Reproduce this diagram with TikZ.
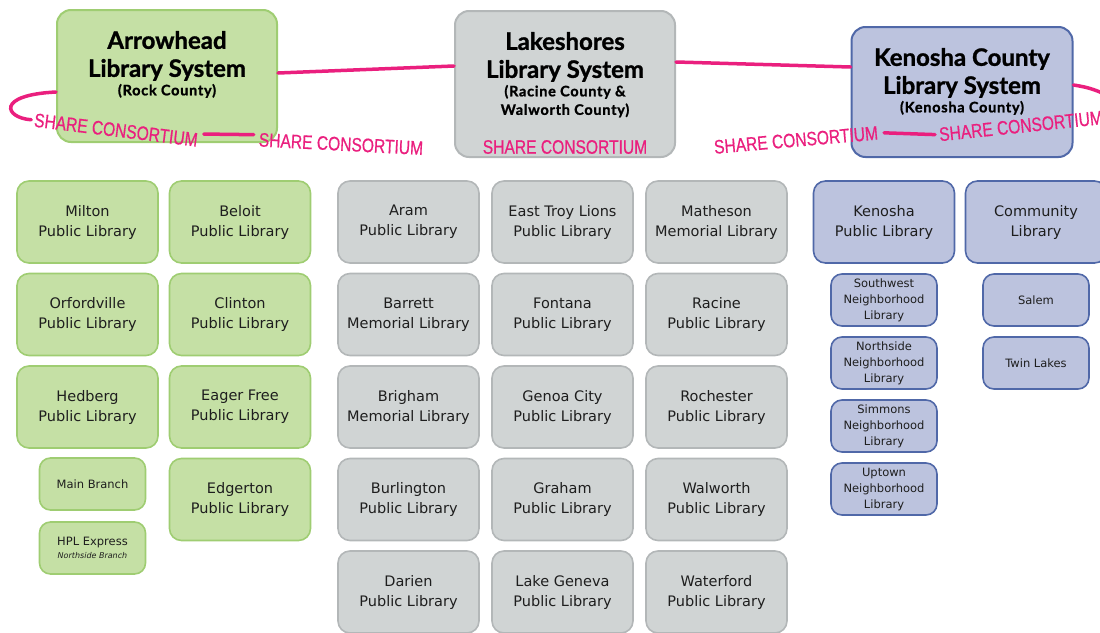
\documentclass[tikz,border=0pt]{standalone}
\usepackage{fontspec}
\usepackage{tikz}
\usetikzlibrary{shapes.geometric, arrows}
\newfontfamily\headfont{Lato}[BoldFeatures={FakeBold=1.2}]
\newfontfamily\subfont{Lato}[LetterSpace=5, BoldFeatures={FakeBold=1.2}]
\newfontfamily\bodyfont{DejaVu Sans}
\newfontfamily\sharefont{Liberation Sans}[FakeStretch=0.8, FakeBold=0.6]
\definecolor{rockfill}{HTML}{C5E0A5}
\definecolor{rockline}{HTML}{9FCD72}
\definecolor{lakefill}{HTML}{D0D4D4}
\definecolor{lakeline}{HTML}{B3B7B8}
\definecolor{kenofill}{HTML}{BCC3DE}
\definecolor{kenoline}{HTML}{5068A8}
\definecolor{ringpink}{HTML}{EA1F7E}
\definecolor{inkblack}{HTML}{1E1E1E}
\tikzstyle{sysbox} = [rectangle, rounded corners=14pt, inner sep=0pt, line width=2pt, text=black]
\tikzstyle{libbox} = [rectangle, rounded corners=12pt, minimum width=141pt, minimum height=82pt, align=center, text=inkblack, line width=1.6pt, font=\bodyfont\fontsize{14.5}{20}\selectfont]
\tikzstyle{branchbox} = [rectangle, rounded corners=11pt, minimum width=106pt, minimum height=52pt, align=center, text=inkblack, line width=1.6pt, font=\bodyfont\fontsize{11.5}{16}\selectfont]
\tikzstyle{rock} = [fill=rockfill, draw=rockline]
\tikzstyle{lake} = [fill=lakefill, draw=lakeline]
\tikzstyle{keno} = [fill=kenofill, draw=kenoline]
\tikzstyle{share} = [inner sep=0pt, text=ringpink, font=\sharefont\fontsize{19.5}{20}\selectfont]
\tikzstyle{ring} = [draw=ringpink, line width=3.5pt, line cap=round]
\newcommand{\headline}{\headfont\bfseries\fontsize{24}{28}\selectfont}
\newcommand{\subline}{\subfont\bfseries\fontsize{14.5}{18.5}\selectfont}

\begin{document}
\begin{tikzpicture}[x=1pt, y=1pt, node distance=92.5pt]
    \useasboundingbox (0,0) rectangle (1100,-632);

    % Systems
    \node (arrowhead) [sysbox, rock] at (167,-76) {\parbox[c][132pt][t]{220pt}{\centering\vspace*{21pt}%
        {\headline Arrowhead\\Library System\par}{\subline (Rock County)\par}}};
    \node (lakeshores) [sysbox, lake] at (565,-84) {\parbox[c][146pt][t]{220pt}{\centering\vspace*{21pt}%
        {\headline Lakeshores\\Library System\par}{\subline (Racine County \&\\Walworth County)\par}}};
    \node (kenosha) [sysbox, keno] at (962,-92) {\parbox[c][130pt][t]{221pt}{\centering\vspace*{21pt}%
        {\headline Kenosha County\\Library System\par}{\subline (Kenosha County)\par}}};

    % Arrowhead libraries
    \node (milton) [libbox, rock] at (87.5,-222) {Milton\\Public Library};
    \node (orfordville) [libbox, rock, below of=milton] {Orfordville\\Public Library};
    \node (hedberg) [libbox, rock, below of=orfordville] {Hedberg\\Public Library};
    \node (mainbranch) [branchbox, rock, node distance=77pt, below of=hedberg, xshift=5pt] {Main Branch};
    \node (hplexpress) [branchbox, rock, node distance=64pt, below of=mainbranch] {HPL Express\\[-3pt]{\fontsize{8}{9}\selectfont\itshape Northside Branch}};
    \node (beloit) [libbox, rock] at (240,-222) {Beloit\\Public Library};
    \node (clinton) [libbox, rock, below of=beloit] {Clinton\\Public Library};
    \node (eagerfree) [libbox, rock, below of=clinton] {Eager Free\\Public Library};
    \node (edgerton) [libbox, rock, below of=eagerfree] {Edgerton\\Public Library};

    % Lakeshores libraries
    \node (aram) [libbox, lake] at (408.5,-222) {Aram\\Public Library};
    \node (barrett) [libbox, lake, below of=aram] {Barrett\\Memorial Library};
    \node (brigham) [libbox, lake, below of=barrett] {Brigham\\Memorial Library};
    \node (burlington) [libbox, lake, below of=brigham] {Burlington\\Public Library};
    \node (darien) [libbox, lake, below of=burlington] {Darien\\Public Library};
    \node (easttroy) [libbox, lake] at (562.5,-222) {East Troy Lions\\Public Library};
    \node (fontana) [libbox, lake, below of=easttroy] {Fontana\\Public Library};
    \node (genoacity) [libbox, lake, below of=fontana] {Genoa City\\Public Library};
    \node (graham) [libbox, lake, below of=genoacity] {Graham\\Public Library};
    \node (lakegeneva) [libbox, lake, below of=graham] {Lake Geneva\\Public Library};
    \node (matheson) [libbox, lake] at (716.5,-222) {Matheson\\Memorial Library};
    \node (racine) [libbox, lake, below of=matheson] {Racine\\Public Library};
    \node (rochester) [libbox, lake, below of=racine] {Rochester\\Public Library};
    \node (walworth) [libbox, lake, below of=rochester] {Walworth\\Public Library};
    \node (waterford) [libbox, lake, below of=walworth] {Waterford\\Public Library};

    % Kenosha libraries
    \node (kenoshapl) [libbox, keno] at (884,-222) {Kenosha\\Public Library};
    \node (southwest) [branchbox, keno, node distance=78pt, below of=kenoshapl] {Southwest\\Neighborhood\\Library};
    \node (northside) [branchbox, keno, node distance=63pt, below of=southwest] {Northside\\Neighborhood\\Library};
    \node (simmons) [branchbox, keno, node distance=63pt, below of=northside] {Simmons\\Neighborhood\\Library};
    \node (uptown) [branchbox, keno, node distance=63pt, below of=simmons] {Uptown\\Neighborhood\\Library};
    \node (community) [libbox, keno] at (1036,-222) {Community\\Library};
    \node (salem) [branchbox, keno, node distance=78pt, below of=community] {Salem};
    \node (twinlakes) [branchbox, keno, node distance=63pt, below of=salem] {Twin Lakes};

    % SHARE ring
    \node (share1) [share, rotate=-7] at (116,-130) {SHARE CONSORTIUM};
    \node (share2) [share, rotate=-3] at (341,-144) {SHARE CONSORTIUM};
    \node (share3) [share] at (565,-147) {SHARE CONSORTIUM};
    \node (share4) [share, rotate=5] at (796,-140) {SHARE CONSORTIUM};
    \node (share5) [share, rotate=6] at (1021,-126) {SHARE CONSORTIUM};
    \coordinate (ringend) at (1112,-98);

    \draw [ring] ([yshift=3pt]arrowhead.east) -- ([yshift=18pt]lakeshores.west);
    \draw [ring] ([yshift=22pt]lakeshores.east) -- ([yshift=25pt]kenosha.west);
    \draw [ring] ([yshift=7pt]kenosha.east) to[bend left=10] (ringend);
    \draw [ring, shorten >=3pt] ([yshift=-16pt]arrowhead.west) .. controls (-5,-95) and (5,-118) .. (share1.west);
    \draw [ring] ([shift={(6pt,6pt)}]share1.east) -- ([shift={(-5pt,5pt)}]share2.west);
    \draw [ring] ([xshift=6pt]share4.east) -- ([xshift=-4pt]share5.west);

\end{tikzpicture}
\end{document}
